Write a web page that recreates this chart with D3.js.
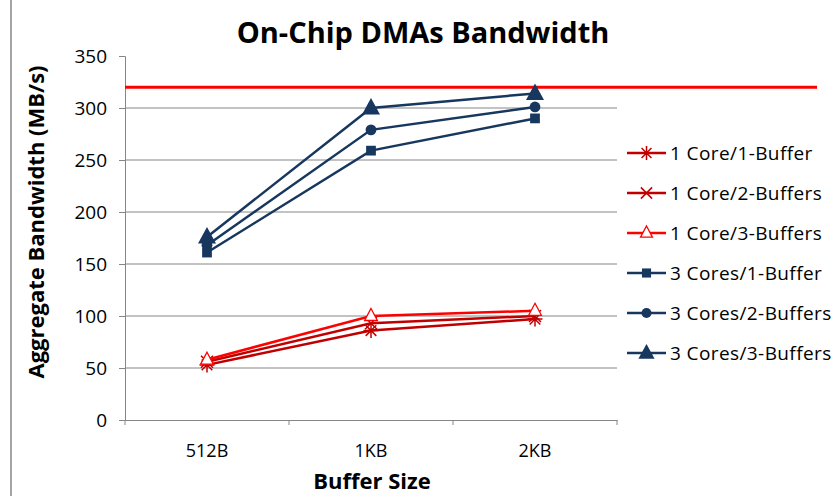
<!DOCTYPE html>
<html>
<head>
<meta charset="utf-8">
<script src="https://cdn.jsdelivr.net/npm/d3@7"></script>
<style>
  body { margin: 0; background: #fff; }
  svg { display: block; font-family: "Open Sans", "Noto Sans", sans-serif; }
</style>
</head>
<body>
<svg id="chart" width="831" height="496"></svg>
<script>
// Buffer sizes on the x axis
const categories = ["512B", "1KB", "2KB"];
// Aggregate bandwidth per configuration (MB/s)
const series = [
  { name: "1 Core/1-Buffer",   values: [53, 86, 97] },
  { name: "1 Core/2-Buffers",  values: [56, 93, 100] },
  { name: "1 Core/3-Buffers",  values: [58, 100, 105] },
  { name: "3 Cores/1-Buffer",  values: [161, 259, 290] },
  { name: "3 Cores/2-Buffers", values: [168, 279, 301] },
  { name: "3 Cores/3-Buffers", values: [176, 300, 314] }
];
const yTicks = [0, 50, 100, 150, 200, 250, 300, 350];
const peakBandwidth = 320;

const styles = [
  { color: "#C00000", marker: "asterisk" },
  { color: "#C00000", marker: "cross" },
  { color: "#FF0000", marker: "openTriangle" },
  { color: "#17375E", marker: "square" },
  { color: "#17375E", marker: "circle" },
  { color: "#17375E", marker: "triangle" }
];

const svg = d3.select("#chart");
const plot = { left: 125, right: 617, top: 56, bottom: 420 };

const x = d3.scaleBand().domain(categories).range([plot.left, plot.right]);
const y = d3.scaleLinear().domain([0, 350]).range([plot.bottom, plot.top]);

// outer frame edge
svg.append("line").attr("x1", 11).attr("x2", 11).attr("y1", 0).attr("y2", 496)
  .attr("stroke", "#868686").attr("stroke-width", 1.5);

// horizontal gridlines
svg.append("g").selectAll("line")
  .data(yTicks.filter(t => t > 0 && t < 350))
  .join("line")
  .attr("x1", plot.left).attr("x2", plot.right)
  .attr("y1", d => y(d)).attr("y2", d => y(d))
  .attr("stroke", "#868686").attr("stroke-width", 1);

// y axis
const yAxis = svg.append("g").attr("transform", `translate(${plot.left},0)`)
  .call(d3.axisLeft(y).tickValues(yTicks).tickSize(6).tickPadding(12).tickFormat(d3.format("d")));
yAxis.select(".domain").attr("stroke", "#868686");
yAxis.selectAll(".tick line").attr("stroke", "#868686");
yAxis.selectAll("text").attr("font-size", 19).attr("fill", "#000")
  .style("font-family", "'Open Sans', sans-serif");

// x axis
const xAxis = svg.append("g").attr("transform", `translate(0,${plot.bottom})`)
  .call(d3.axisBottom(x).tickSize(0).tickPadding(24));
xAxis.select(".domain").attr("stroke", "#868686").attr("stroke-width", 1.2);
xAxis.selectAll("text").attr("font-size", 18).attr("fill", "#000")
  .style("font-family", "'Open Sans', sans-serif");
// category boundary ticks
svg.append("g").selectAll("line")
  .data([0, 1, 2, 3])
  .join("line")
  .attr("x1", i => plot.left + i * x.step()).attr("x2", i => plot.left + i * x.step())
  .attr("y1", plot.bottom).attr("y2", plot.bottom + 5)
  .attr("stroke", "#868686");

// peak bandwidth reference line
svg.append("line")
  .attr("x1", plot.left).attr("x2", 817)
  .attr("y1", y(peakBandwidth)).attr("y2", y(peakBandwidth))
  .attr("stroke", "#FF0000").attr("stroke-width", 3);

// marker drawing
function drawMarker(g, type, color, size) {
  const s = size;
  if (type === "asterisk") {
    const p = d3.path();
    for (let k = 0; k < 4; k++) {
      const a = k * Math.PI / 4;
      p.moveTo(-s * Math.cos(a), -s * Math.sin(a));
      p.lineTo(s * Math.cos(a), s * Math.sin(a));
    }
    g.append("path").attr("d", p.toString()).attr("stroke", color).attr("stroke-width", 1.5).attr("fill", "none");
  } else if (type === "cross") {
    const d = s * 0.8;
    g.append("path").attr("d", `M${-d},${-d}L${d},${d}M${-d},${d}L${d},${-d}`)
      .attr("stroke", color).attr("stroke-width", 1.5).attr("fill", "none");
  } else if (type === "openTriangle") {
    g.append("path").attr("d", `M0,${-s}L${s * 0.85},${s * 0.6}L${-s * 0.85},${s * 0.6}Z`)
      .attr("stroke", color).attr("stroke-width", 1.3).attr("fill", "#fff");
  } else if (type === "square") {
    const d = s * 0.65;
    g.append("rect").attr("x", -d).attr("y", -d).attr("width", 2 * d).attr("height", 2 * d).attr("fill", color);
  } else if (type === "circle") {
    g.append("circle").attr("r", s * 0.72).attr("fill", color);
  } else if (type === "triangle") {
    g.append("path").attr("d", `M0,${-s}L${s * 0.9},${s * 0.65}L${-s * 0.9},${s * 0.65}Z`).attr("fill", color);
  }
}

const line = d3.line()
  .x((d, i) => x(categories[i]) + x.bandwidth() / 2)
  .y(d => y(d));

// series lines and markers
series.forEach((s, si) => {
  const st = styles[si];
  svg.append("path")
    .datum(s.values)
    .attr("d", line)
    .attr("fill", "none")
    .attr("stroke", st.color)
    .attr("stroke-width", 2.5);
  s.values.forEach((v, i) => {
    const g = svg.append("g")
      .attr("transform", `translate(${x(categories[i]) + x.bandwidth() / 2},${y(v)})`);
    drawMarker(g, st.marker, st.color, st.marker === "triangle" ? 10 : 7.5);
  });
});

// legend
const legend = svg.append("g");
series.forEach((s, si) => {
  const st = styles[si];
  const cy = 153 + si * 40;
  legend.append("line").attr("x1", 627).attr("x2", 666).attr("y1", cy).attr("y2", cy)
    .attr("stroke", st.color).attr("stroke-width", 2.5);
  const g = legend.append("g").attr("transform", `translate(646.5,${cy})`);
  drawMarker(g, st.marker, st.color, st.marker === "triangle" ? 9 : 7);
  legend.append("text").attr("x", 670).attr("y", cy).attr("dy", "0.36em")
    .attr("font-size", 19).attr("letter-spacing", 0.4).attr("fill", "#000").text(s.name);
});

// titles
svg.append("text").attr("x", 423).attr("y", 43).attr("text-anchor", "middle")
  .attr("font-size", 29).attr("font-weight", "bold").attr("fill", "#000")
  .text("On-Chip DMAs Bandwidth");

svg.append("text").attr("transform", "translate(36,222) rotate(-90)")
  .attr("text-anchor", "middle").attr("dy", "0.35em")
  .attr("font-size", 22).attr("font-weight", "bold").attr("fill", "#000")
  .text("Aggregate Bandwidth (MB/s)");

svg.append("text").attr("x", 372).attr("y", 481).attr("text-anchor", "middle").attr("dy", "0.35em")
  .attr("font-size", 22).attr("font-weight", "bold").attr("fill", "#000")
  .text("Buffer Size");
</script>
</body>
</html>
